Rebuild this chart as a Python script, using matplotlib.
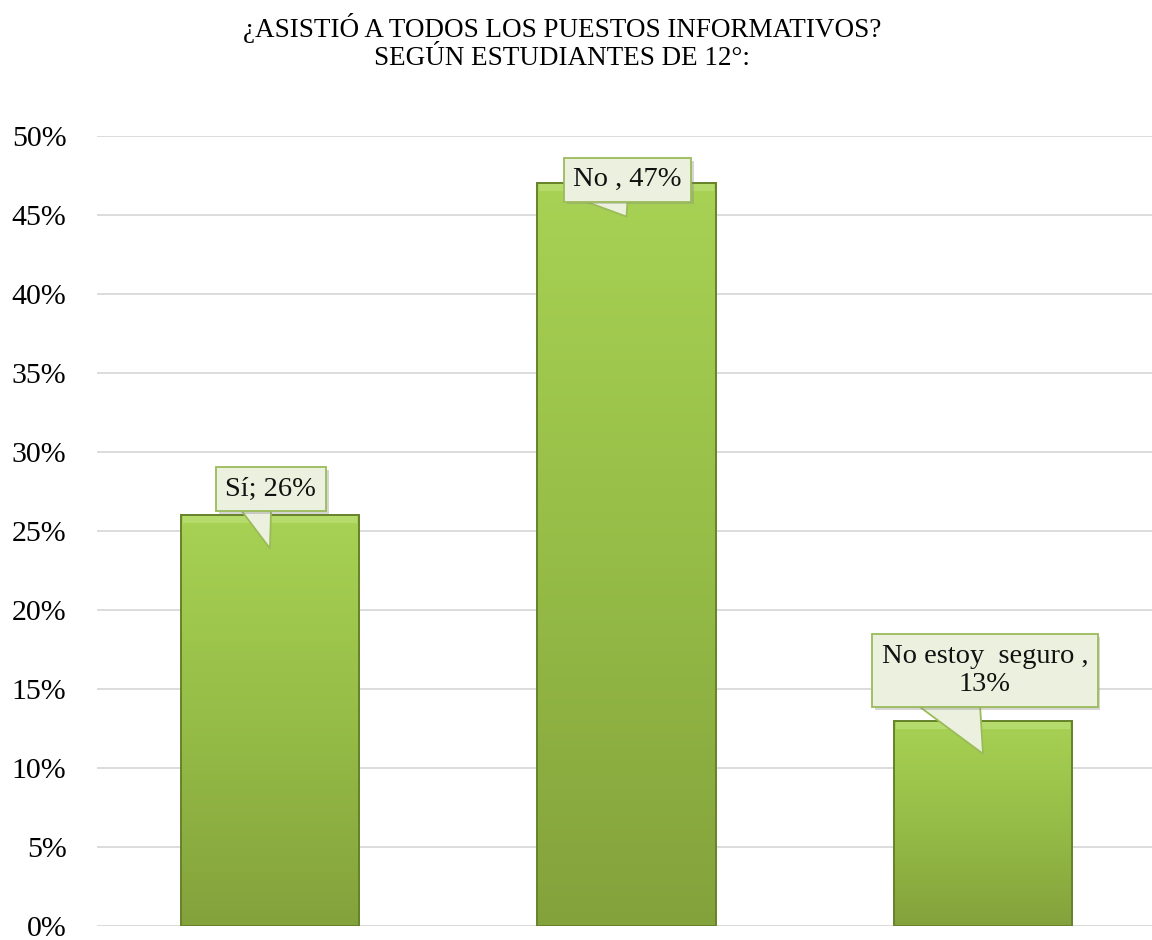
import numpy as np
import matplotlib
matplotlib.use("Agg")
import matplotlib.pyplot as plt
import matplotlib.patheffects as pe
from matplotlib.colors import LinearSegmentedColormap
from matplotlib.ticker import PercentFormatter

categories = ["Sí", "No", "No estoy seguro"]
values = [0.26, 0.47, 0.13]
labels = ["Sí; 26%", "No , 47%", "No estoy  seguro ,\n13%"]
title_lines = ["¿ASISTIÓ A TODOS LOS PUESTOS INFORMATIVOS?", "SEGÚN ESTUDIANTES DE 12°:"]

# callout box centre offsets (points) from the tail tip, and tail widths
label_offsets = [(0.7, 42.5), (0.7, 26.6), (1.4, 60)]
tail_widths = [1.4, 2.0, 2.7]

plt.rcParams["font.family"] = ["Liberation Serif", "DejaVu Serif"]

fig = plt.figure(figsize=(11.52, 9.4), dpi=100)
ax = fig.add_axes([97 / 1152, 14 / 940, 1055 / 1152, 790 / 940])

green = LinearSegmentedColormap.from_list("bar", ["#84a23c", "#96bd47", "#a7d254"])
grad = np.linspace(0, 1, 256).reshape(-1, 1)

x = np.arange(len(categories))
bars = ax.bar(x, values, width=0.5, color="none", edgecolor="#66822a",
              linewidth=1.4, zorder=3)
for bar in bars:
    x0, w, h = bar.get_x(), bar.get_width(), bar.get_height()
    im = ax.imshow(grad, cmap=green, origin="lower", aspect="auto",
                   extent=(x0, x0 + w, 0, h), zorder=2)
    im.set_clip_path(bar)

# bevel highlight along the top of each bar
ax.bar(x, [0.005] * len(x), bottom=np.array(values) - 0.005, width=0.49,
       color="#b9de74", alpha=0.8, linewidth=0, zorder=2.5)

for xi, v, lab, off, tw in zip(x, values, labels, label_offsets, tail_widths):
    ann = ax.annotate(lab, xy=(xi, v - 0.021), xytext=off,
                      textcoords="offset points", ha="center", va="center",
                      fontsize=20.5, color="#111111", zorder=5,
                      bbox=dict(boxstyle="square,pad=0.33", fc="#ebf1de", ec="#9bbb59", lw=1.3),
                      arrowprops=dict(arrowstyle=f"wedge,tail_width={tw},shrink_factor=0.5",
                                      fc="#ebf1de", ec="#9bbb59", lw=1.3,
                                      patchA=None, shrinkA=0, shrinkB=0, relpos=(0.3, 0.3)))
    ann.get_bbox_patch().set_path_effects(
        [pe.SimplePatchShadow(offset=(2, -2), shadow_rgbFace="#888888", alpha=0.35), pe.Normal()])

ax.set_xlim(-0.485, 2.474)
ax.set_ylim(0, 0.5)
ax.set_yticks(np.arange(0, 0.51, 0.05))
ax.yaxis.set_major_formatter(PercentFormatter(1.0, decimals=0))
ax.tick_params(axis="y", length=0, pad=22, labelsize=21.5)
ax.set_xticks([])
ax.grid(axis="y", color="#d9d9d9", linewidth=1.3, zorder=0)
ax.set_axisbelow(True)
for s in ax.spines.values():
    s.set_visible(False)

fig.text(0.488, 1 - 37 / 940, title_lines[0], ha="center", va="baseline", fontsize=19.5)
fig.text(0.488, 1 - 65 / 940, title_lines[1], ha="center", va="baseline", fontsize=19.5)

fig.savefig("out.png", dpi=100)
